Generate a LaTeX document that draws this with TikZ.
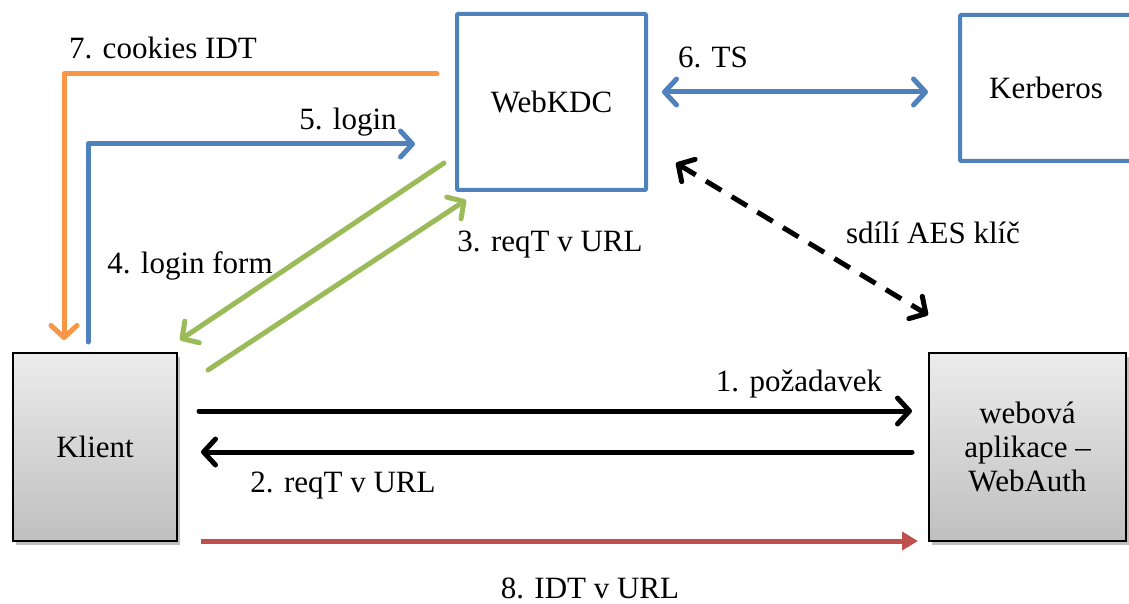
\documentclass[tikz,border=0pt]{standalone}
\usepackage{fontspec}
\setmainfont{Liberation Serif}
\usetikzlibrary{arrows.meta,shadows,calc}
\definecolor{cblue}{HTML}{4F81BD}
\definecolor{corange}{HTML}{F79646}
\definecolor{cgreen}{HTML}{9BBB59}
\definecolor{cred}{HTML}{C0504D}
\tikzset{
  bluebox/.style={draw=cblue, line width=4pt, fill=white, rounded corners=1pt, inner sep=0pt, align=center},
  graybox/.style={draw=black, line width=2.5pt, top color=gray!15, bottom color=gray!50, inner sep=0pt, align=center,
    drop shadow={shadow xshift=3pt, shadow yshift=-4pt, opacity=0.25, fill=black}},
  conn/.style={line width=5pt, line cap=round, line join=round},
  barb/.style={-{Straight Barb[length=12pt,width=26pt,round]}},
  lbl/.style={inner sep=0pt, font=\fontsize{31}{36}\selectfont},
}
\begin{document}
\begin{tikzpicture}[x=1pt,y=-1pt, every node/.style={font=\fontsize{31}{36}\selectfont}]
\clip (0,0) rectangle (1129,604);
\useasboundingbox (0,0) rectangle (1129,604);
\node[bluebox, minimum width=189pt, minimum height=176pt] (kdc) at (551.5,102) {WebKDC};
\node[bluebox, minimum width=172pt, minimum height=146pt] (kerb) at (1046,88) {Kerberos};
\node[graybox, minimum width=164pt, minimum height=188pt] (klient) at (95,447) {Klient};
\node[graybox, minimum width=197pt, minimum height=188pt] (wa) at (1027.5,447) {webová\\[-2pt]aplikace –\\[-2pt]WebAuth};

% free ends
\coordinate (o1) at (437,74);
\coordinate (o2) at (64,340);
\coordinate (b1) at (88,342);
\coordinate (b2) at (415,144);
\coordinate (g1) at (444,163);
\coordinate (g2) at (180,340);
\coordinate (g3) at (208,370);
\coordinate (g4) at (466,200);
\coordinate (t1) at (662,92);
\coordinate (t2) at (928,92);
\coordinate (d1) at (676,163);
\coordinate (d2) at (928,315);
\coordinate (k1) at (199,411);
\coordinate (k2) at (912,411);
\coordinate (k3) at (912,452);
\coordinate (k4) at (201,452);
\coordinate (r1) at (201,541);
\coordinate (r2) at (918,541);

\draw[conn, corange, barb] (o1) -| (o2);
\draw[conn, cblue, barb] (b1) |- (b2);
\draw[conn, cgreen, barb] (g1) -- (g2);
\draw[conn, cgreen, barb] (g3) -- (g4);
\draw[conn, cblue, {Straight Barb[length=12pt,width=26pt,round]}-{Straight Barb[length=12pt,width=26pt,round]}] (t1) -- (t2);
\draw[conn, black, line cap=butt, dash pattern=on 18pt off 12pt, {Straight Barb[length=12pt,width=26pt,round]}-{Straight Barb[length=12pt,width=26pt,round]}] (d1) -- (d2);
\draw[conn, black, barb] (k1) -- (k2);
\draw[conn, black, barb] (k3) -- (k4);
\draw[conn, cred, line cap=butt, -{Triangle[length=16pt,width=18pt]}] (r1) -- (r2);

\node[lbl] (l7) at (163,48) {7. cookies IDT};
\node[lbl] (l5) at (348,122) {5. login};
\node[lbl] (l4) at (190,266) {4. login form};
\node[lbl] (l3) at (550,245) {3. reqT v URL};
\node[lbl] (l6) at (713,57) {6. TS};
\node[lbl] (la) at (933,233) {sdílí AES klíč};
\node[lbl] (l1) at (799,384) {1. požadavek};
\node[lbl] (l2) at (343,486) {2. reqT v URL};
\node[lbl] (l8) at (590,588) {8. IDT v URL};
\end{tikzpicture}
\end{document}
